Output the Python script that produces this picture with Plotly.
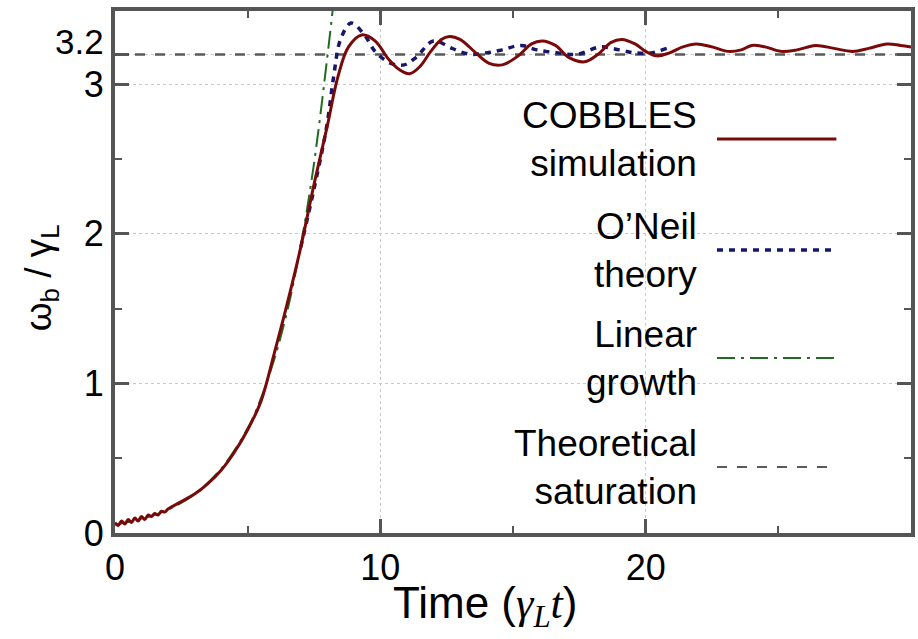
import plotly.graph_objects as go

# ---------------- data ----------------
sim_t = [0, 0.12, 0.25, 0.37, 0.5, 0.62, 0.75, 0.87, 1.0, 1.12, 1.25, 1.37, 1.5, 1.62,
         1.75, 1.87, 2.0, 2.5, 3.0, 3.5, 4.0, 4.5, 5.0, 5.5, 6.0, 6.5, 7.0, 7.5, 8.0,
         8.4, 8.8, 9.3, 9.8, 10.3, 10.7, 11.1, 11.5, 11.9, 12.3, 12.6, 13.0, 13.6, 14.1,
         14.6, 15.2, 15.7, 16.1, 16.6, 17.1, 17.7, 18.2, 18.7, 19.1, 19.6, 20.0, 20.4,
         20.9, 21.4, 21.9, 22.5, 23.1, 23.6, 24.0, 24.5, 25.1, 25.7, 26.4, 27.1, 27.8,
         28.4, 29.1, 29.6, 30.0]
sim_v = [0.07, 0.05, 0.08, 0.06, 0.09, 0.07, 0.10, 0.08, 0.11, 0.09, 0.12, 0.11, 0.13, 0.12,
         0.145, 0.14, 0.16, 0.21, 0.26, 0.33, 0.42, 0.54, 0.69, 0.88, 1.20, 1.54, 1.91, 2.33,
         2.72, 3.05, 3.25, 3.33, 3.29, 3.17, 3.10, 3.07, 3.12, 3.22, 3.30, 3.32, 3.30, 3.21,
         3.14, 3.13, 3.19, 3.27, 3.29, 3.26, 3.18, 3.15, 3.20, 3.28, 3.30, 3.27, 3.22, 3.19,
         3.21, 3.25, 3.27, 3.25, 3.22, 3.23, 3.26, 3.25, 3.22, 3.23, 3.26, 3.24, 3.22,
         3.24, 3.27, 3.26, 3.25]

oneil_t = [7.0, 7.5, 7.98, 8.24, 8.5, 8.9, 9.4, 9.8, 10.4, 10.9, 11.35, 12.0, 12.7, 13.4,
           14.0, 14.6, 15.3, 15.9, 16.7, 17.4, 18.3, 19.0, 19.6, 20.2, 20.8]
oneil_v = [1.91, 2.30, 2.72, 3.05, 3.30, 3.41, 3.33, 3.22, 3.14, 3.13, 3.18, 3.29, 3.24, 3.20,
           3.21, 3.23, 3.26, 3.23, 3.21, 3.20, 3.25, 3.23, 3.21, 3.21, 3.24]

lin_t = [0, 1, 2, 3, 4, 5, 5.5, 6, 6.5, 7, 7.5, 8, 8.2]
lin_v = [0.057, 0.094, 0.156, 0.26, 0.43, 0.70, 0.90, 1.16, 1.49, 1.92, 2.47, 3.18, 3.49]

sat_t = [0, 30]
sat_v = [3.2, 3.2]

x_ticks = [0, 10, 20]
x_minor = [5, 15, 25]
y_ticks = [0, 1, 2, 3, 3.2]
y_tick_text = ["0", "1", "2", "3", ""]
y_label_32 = "3.2"
y_minor = [0.5, 1.5, 2.5]

legend_labels = ["COBBLES<br>simulation", "O\u2019Neil<br>theory",
                 "Linear<br>growth", "Theoretical<br>saturation"]

# ---------------- styles ----------------
RED = "#7a0a0a"
BLUE = "#16166a"
GREEN = "#1f6b1f"
GRAY = "#5a5a5a"
AX = "#555555"
FONT = "Liberation Sans, Arial, sans-serif"

W, H = 918, 639
L, R, T, B = 115, 3, 11, 106


def px_x(x):
    return (x - L) / (W - L - R)


def px_y(y):
    return (H - B - y) / (H - B - T)


fig = go.Figure()
fig.add_trace(go.Scatter(x=sat_t, y=sat_v, mode="lines",
                         line=dict(color=GRAY, width=2.5, dash="10px,10px")))
fig.add_trace(go.Scatter(x=lin_t, y=lin_v, mode="lines", line_shape="spline",
                         line=dict(color=GREEN, width=2, dash="18px,6px,3px,6px")))
fig.add_trace(go.Scatter(x=oneil_t, y=oneil_v, mode="lines", line_shape="spline",
                         line=dict(color=BLUE, width=3.5, dash="6px,6px")))
fig.add_trace(go.Scatter(x=sim_t, y=sim_v, mode="lines", line_shape="spline",
                         line=dict(color=RED, width=3)))

axis_common = dict(
    showline=True, linecolor=AX, linewidth=4, mirror="allticks",
    ticks="inside", ticklen=14, tickwidth=3, tickcolor=AX,
    showgrid=True, gridcolor="#c8c8c8", griddash="dot", gridwidth=1,
    zeroline=False, tickfont=dict(family=FONT, size=36, color="black"),
)
fig.update_xaxes(range=[0, 30], tickvals=x_ticks, **axis_common,
                 minor=dict(tickvals=x_minor, ticklen=7, tickwidth=2,
                            tickcolor=AX, ticks="inside", showgrid=False))
fig.update_yaxes(range=[0, 3.49], tickvals=y_ticks, ticktext=y_tick_text, **axis_common,
                 minor=dict(tickvals=y_minor, ticklen=7, tickwidth=2,
                            tickcolor=AX, ticks="inside", showgrid=False))

# legend: text right-aligned, sample line to the right
legend_styles = [dict(color=RED, width=3, dash="solid"),
                 dict(color=BLUE, width=3.5, dash="6px,6px"),
                 dict(color=GREEN, width=2, dash="18px,6px,3px,6px"),
                 dict(color=GRAY, width=2, dash="10px,10px")]
legend_y = [139, 250, 358, 467]
annotations = []
shapes = []
for lab, st, yy in zip(legend_labels, legend_styles, legend_y):
    annotations.append(dict(x=px_x(702), y=px_y(yy), xref="paper", yref="paper",
                            text=lab, showarrow=False, xanchor="right", yanchor="middle",
                            align="right", font=dict(family=FONT, size=37, color="black")))
    shapes.append(dict(type="line", xref="paper", yref="paper",
                       x0=px_x(720), x1=px_x(840), y0=px_y(yy), y1=px_y(yy), line=st))

# "3.2" tick label, lifted slightly so it clears the "3" label (as in the reference)
annotations.append(dict(x=px_x(106), y=px_y(42), xref="paper", yref="paper",
                        text=y_label_32, showarrow=False, xanchor="right", yanchor="middle",
                        font=dict(family=FONT, size=35, color="black")))

annotations.append(dict(
    x=px_x(487), y=px_y(606), xref="paper", yref="paper", showarrow=False,
    xanchor="center", yanchor="middle",
    text="Time (<i><span style='font-family:Liberation Serif'>\u03b3</span></i>"
         "<sub><i><span style='font-family:Liberation Serif'>L</span></i></sub>"
         "<i><span style='font-family:Liberation Serif'>t</span></i>)",
    font=dict(family=FONT, size=44, color="black")))
annotations.append(dict(
    x=px_x(41), y=px_y(278), xref="paper", yref="paper", showarrow=False,
    xanchor="center", yanchor="middle", textangle=-90,
    text="\u03c9<sub>b</sub> / \u03b3<sub>L</sub>",
    font=dict(family=FONT, size=37, color="black")))

fig.update_layout(
    width=W, height=H, margin=dict(l=L, r=R, t=T, b=B),
    paper_bgcolor="white", plot_bgcolor="white", showlegend=False,
    annotations=annotations, shapes=shapes,
)
fig.write_html("out.html")
